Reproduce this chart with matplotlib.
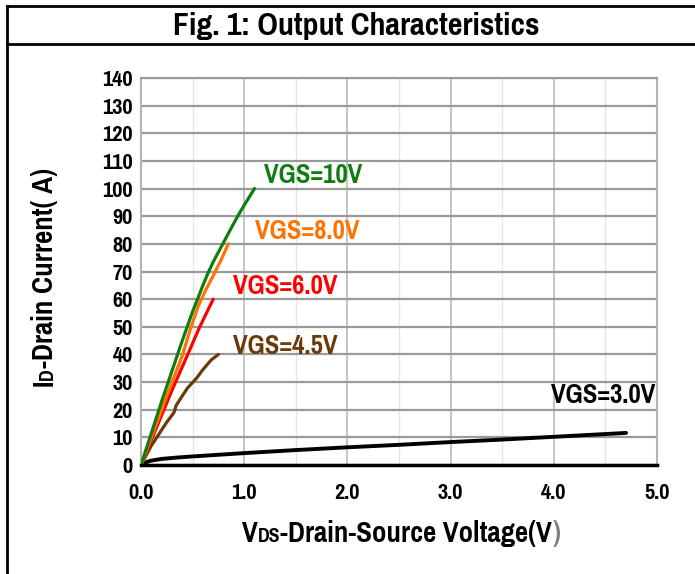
import matplotlib
matplotlib.use("Agg")
import matplotlib.pyplot as plt
from matplotlib.ticker import MultipleLocator
from matplotlib.transforms import IdentityTransform
from matplotlib.lines import Line2D

plt.rcParams['font.family'] = ['Pragati Narrow', 'Liberation Sans', 'DejaVu Sans']
plt.rcParams['font.weight'] = 'bold'

# VGS = 10 V
vds_10 = [0, 0.1, 0.2, 0.3, 0.4, 0.5, 0.6, 0.65, 0.7, 0.8, 0.9, 0.96, 1.0, 1.1]
id_10 = [0, 11.5, 23, 34, 45, 55.5, 65, 69.5, 73.5, 80.5, 87.5, 91.5, 94, 100]
# VGS = 8.0 V
vds_8 = [0, 0.1, 0.2, 0.3, 0.4, 0.475, 0.555, 0.63, 0.7, 0.78, 0.846]
id_8 = [0, 10, 20, 30, 39.5, 48.8, 57.5, 63.5, 68.5, 74.5, 80]
# VGS = 6.0 V
vds_6 = [0, 0.1, 0.2, 0.3, 0.4, 0.5, 0.555, 0.6, 0.7]
id_6 = [0, 9, 18, 27, 35.5, 44, 48.8, 52.3, 60]
# VGS = 4.5 V
vds_45 = [0, 0.05, 0.1, 0.155, 0.2, 0.25, 0.32, 0.34, 0.4, 0.45, 0.54, 0.6, 0.68, 0.75]
id_45 = [0, 3.5, 7, 10.1, 12.7, 15.5, 19, 21.5, 25, 27.8, 31.5, 34.5, 38, 40]
# VGS = 3.0 V
vds_3 = [0, 0.05, 0.1, 0.2, 0.35, 0.5, 0.75, 1.0, 1.5, 2.0, 2.5, 3.0, 3.5, 4.0, 4.7]
id_3 = [0, 1.0, 1.6, 2.2, 2.7, 3.1, 3.7, 4.3, 5.4, 6.4, 7.3, 8.3, 9.2, 10.2, 11.6]

labels = ["VGS=3.0V", "VGS=4.5V", "VGS=6.0V", "VGS=8.0V", "VGS=10V"]
label_x = [3.97, 0.89, 0.89, 1.10, 1.19]
label_y = [25.3, 42.7, 64.4, 84.3, 104.9]
colors = ["#000000", "#6b3a0a", "#ff0000", "#ff7300", "#0f7d0f"]

fig = plt.figure(figsize=(6.95, 5.74), dpi=100)
ax = fig.add_axes([141/695, 109/574, 516/695, 387/574])

series = [(vds_3, id_3), (vds_45, id_45), (vds_6, id_6), (vds_8, id_8), (vds_10, id_10)]
for (x, y), c in zip(series, colors):
    lw = 2.8 if c == "#000000" else 2.3
    ax.plot(x, y, color=c, lw=lw, solid_capstyle='round', zorder=5)
for t, lx, ly, c in zip(labels, label_x, label_y, colors):
    ax.text(lx, ly, t, color=c, fontsize=21, fontweight='bold', ha='left', va='center', zorder=6)

ax.set_xlim(0, 5)
ax.set_ylim(0, 140)
ax.xaxis.set_major_locator(MultipleLocator(1))
ax.xaxis.set_minor_locator(MultipleLocator(0.5))
ax.yaxis.set_major_locator(MultipleLocator(10))
ax.set_xticklabels([f"{v:.1f}" for v in ax.get_xticks()])
ax.tick_params(axis='both', which='both', length=0, labelsize=17.5)
ax.tick_params(axis='x', pad=13)
ax.tick_params(axis='y', pad=6)
ax.grid(axis='y', which='major', color='#9a9a9a', lw=1.6, zorder=1)
ax.grid(axis='x', which='major', color='#c4c4c4', lw=1.4, zorder=1)
ax.grid(axis='x', which='minor', color='#e4e4e4', lw=1.0, zorder=1)
for s in ['left', 'right', 'top']:
    ax.spines[s].set_color('#b4b4b4')
    ax.spines[s].set_linewidth(1.5)
ax.spines['top'].set_color('#9a9a9a')
ax.spines['bottom'].set_color('black')
ax.spines['bottom'].set_linewidth(2.5)
ax.spines['bottom'].set_zorder(7)

# frame around the figure and title
W, H = 695, 574
fig.add_artist(Line2D([7/W, 7/W], [0, 1 - 6/H], transform=fig.transFigure, color='black', lw=2))
fig.add_artist(Line2D([7/W, 1], [1 - 6/H, 1 - 6/H], transform=fig.transFigure, color='black', lw=2))
fig.add_artist(Line2D([7/W, 1], [1 - 44/H, 1 - 44/H], transform=fig.transFigure, color='black', lw=2))
fig.text(356/W, 1 - 35.5/H, "Fig. 1: Output Characteristics", fontsize=25, fontweight='bold',
         ha='center', va='baseline')

renderer = fig.canvas.get_renderer()


def piece_label(pieces, cx, cy, rotation):
    texts = []
    for s, size, col in pieces:
        t = fig.text(0, 0, s, fontsize=size, fontweight='bold', color=col, transform=IdentityTransform(),
                     rotation=rotation, rotation_mode='anchor', ha='left', va='baseline')
        texts.append(t)
    lengths = []
    for t in texts:
        bb = t.get_window_extent(renderer)
        lengths.append(bb.height if rotation == 90 else bb.width)
    total = sum(lengths)
    pos = -total / 2
    for t, L in zip(texts, lengths):
        if rotation == 90:
            t.set_position((cx, cy + pos))
        else:
            t.set_position((cx + pos, cy))
        pos += L


piece_label([("V", 22.5, 'black'), ("DS", 15.5, 'black'), ("-Drain-Source Voltage(V", 22.5, 'black'),
             (")", 22.5, '#808080')], 401, H - 542, 0)
piece_label([("I", 22.5, 'black'), ("D", 15.5, 'black'), ("-Drain Current( A)", 22.5, 'black')],
            53, H - 277, 90)

plt.savefig("out.png", dpi=100)
